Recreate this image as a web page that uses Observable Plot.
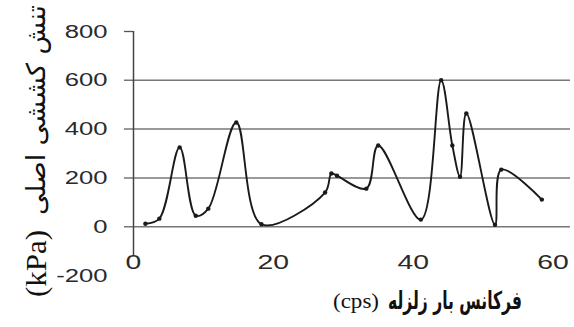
<!DOCTYPE html>
<html>
<head>
<meta charset="utf-8">
<script src="https://cdn.jsdelivr.net/npm/d3@7"></script>
<script src="https://cdn.jsdelivr.net/npm/@observablehq/plot@0.6"></script>
<style>
  html, body { margin: 0; padding: 0; background: #fff; }
</style>
</head>
<body>
<div id="chart"></div>
<script>
// Data
const freq   = [1.7, 3.7, 6.6, 8.9, 10.7, 14.7, 18.3, 27.4, 28.3, 29.1, 33.3, 35.0, 41.1, 44.0, 45.6, 46.7, 47.6, 51.7, 52.6, 58.4];
const stress = [12, 33, 325, 45, 74, 427, 10, 140, 218, 209, 156, 333, 29, 600, 333, 205, 464, 8, 234, 111];

const xTicks = [0, 20, 40, 60];
const yTicks = [-200, 0, 200, 400, 600, 800];
const gridValues = [0, 200, 400, 600];
const xDomain = [0, 62.5];
const yDomain = [-200, 800];
const yAxisBottom = -120;
const tickStart = -1.3;

const xLabelFa = "فرکانس بار زلزله";
const xLabelUnit = "(cps)";
const yLabelFa = "تنش کششی اصلی";
const yLabelUnit = "(kPa)";

const data = freq.map((f, i) => ({f, s: stress[i]}));

const chart = Plot.plot({
  width: 574,
  height: 327,
  marginLeft: 133,
  marginRight: 4,
  marginTop: 31,
  marginBottom: 52,
  style: {fontFamily: "Liberation Sans, Arial, sans-serif", background: "#fff", color: "#2a2a2a"},
  x: {domain: xDomain},
  y: {domain: yDomain},
  marks: [
    Plot.ruleY(gridValues, {x1: tickStart, x2: xDomain[1], stroke: "#777", strokeWidth: 1.5}),
    Plot.ruleY([800], {x1: tickStart, x2: 0, stroke: "#555", strokeWidth: 1.3}),
    Plot.ruleX([0], {y1: yDomain[1], y2: yAxisBottom, stroke: "#444", strokeWidth: 1.5}),
    Plot.axisY({ticks: yTicks, tickSize: 0, tickPadding: 26, fontSize: 19, label: null, tickFormat: d => String(d)}),
    Plot.axisX({ticks: xTicks, tickSize: 0, tickPadding: -21, fontSize: 21, label: null, tickFormat: d => String(d)}),
    Plot.line(data, {x: "f", y: "s", curve: "catmull-rom", stroke: "#1a1a1a", strokeWidth: 1.9}),
    Plot.dot(data, {x: "f", y: "s", r: 2.2, fill: "#1a1a1a", stroke: "none"})
  ]
});

// Widen tick label glyphs like the reference
d3.select(chart).selectAll('g[aria-label="y-axis tick label"] text, g[aria-label="x-axis tick label"] text')
  .attr("transform", function() { return (this.getAttribute("transform") || "") + " scale(1.35,1)"; });

const svg = d3.select(chart);
// x-axis title (Persian part stretched vertically to match the reference glyph height)
svg.append("text")
  .attr("transform", "translate(388,309) scale(1,1.7)")
  .attr("text-anchor", "start")
  .attr("font-family", "DejaVu Sans, sans-serif")
  .attr("font-weight", "bold")
  .attr("font-size", 14.5)
  .attr("textLength", 134)
  .attr("lengthAdjust", "spacingAndGlyphs")
  .attr("fill", "#111")
  .text(xLabelFa);
svg.append("text")
  .attr("x", 333).attr("y", 308)
  .attr("text-anchor", "start")
  .attr("font-family", "Liberation Serif, Times New Roman, serif")
  .attr("font-size", 22)
  .attr("textLength", 46)
  .attr("lengthAdjust", "spacingAndGlyphs")
  .attr("fill", "#111")
  .text(xLabelUnit);
// y-axis title (rotated)
svg.append("text")
  .attr("transform", "translate(45,215) rotate(-90)")
  .attr("text-anchor", "start")
  .attr("font-family", "DejaVu Sans, sans-serif")
  .attr("font-size", 26)
  .attr("textLength", 210)
  .attr("lengthAdjust", "spacingAndGlyphs")
  .attr("fill", "#111")
  .text(yLabelFa);
svg.append("text")
  .attr("transform", "translate(46,297) rotate(-90)")
  .attr("text-anchor", "start")
  .attr("font-family", "Liberation Serif, Times New Roman, serif")
  .attr("font-size", 29)
  .attr("textLength", 67)
  .attr("lengthAdjust", "spacingAndGlyphs")
  .attr("fill", "#111")
  .text(yLabelUnit);

document.getElementById("chart").appendChild(chart);
</script>
</body>
</html>
